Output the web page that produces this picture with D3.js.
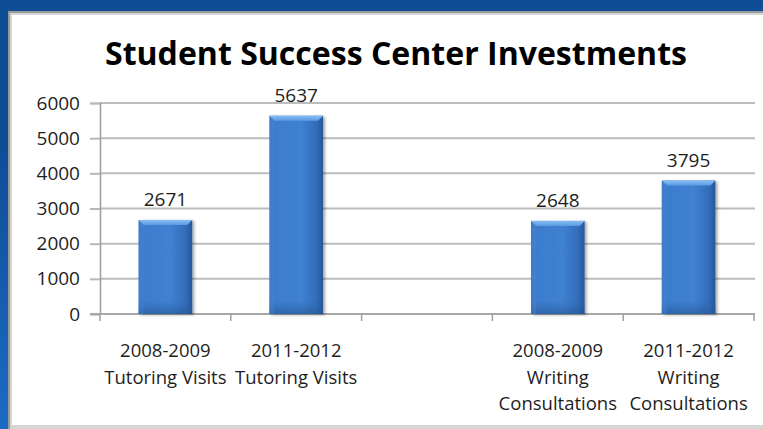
<!DOCTYPE html>
<html>
<head>
<meta charset="utf-8">
<script src="https://cdn.jsdelivr.net/npm/d3@7"></script>
<style>
  html, body { margin: 0; padding: 0; background: #ffffff; overflow: hidden; }
  svg { display: block; }
  text { font-family: "Open Sans", "Noto Sans", sans-serif; fill: #1e1e1e; }
</style>
</head>
<body>
<svg id="svg" width="763" height="429"></svg>
<script>
// ── Data ──────────────────────────────────────────────────────────────────────

const title = 'Student Success Center Investments';
const categories = ['tut0809', 'tut1112', 'gap', 'wri0809', 'wri1112'];
const categoryLabels = [
  ['2008-2009', 'Tutoring Visits'],
  ['2011-2012', 'Tutoring Visits'],
  [],
  ['2008-2009', 'Writing', 'Consultations'],
  ['2011-2012', 'Writing', 'Consultations']
];
const values = [2671, 5637, null, 2648, 3795];
const yTicks = [0, 1000, 2000, 3000, 4000, 5000, 6000];

// ── Layout ────────────────────────────────────────────────────────────────────

const W = 763, H = 429;
const plot = { left: 100, right: 754, top: 103, bottom: 314 };

const svg = d3.select('#svg');
const defs = svg.append('defs');

// slide frame: blue band on top and left, white chart panel
const side = defs.append('linearGradient').attr('id', 'side')
  .attr('x1', 0).attr('y1', 0).attr('x2', 0).attr('y2', 1);
side.append('stop').attr('offset', '0%').attr('stop-color', '#0f4d97');
side.append('stop').attr('offset', '100%').attr('stop-color', '#1b6cc4');

const frame = svg.append('g').attr('class', 'frame');
frame.append('rect').attr('width', W).attr('height', H).attr('fill', '#0f4d97');
frame.append('rect').attr('x', 0).attr('y', 150).attr('width', 9).attr('height', H - 150).attr('fill', 'url(#side)');
frame.append('rect').attr('x', 8).attr('y', 11).attr('width', W - 8).attr('height', H - 11).attr('fill', '#9a9a9a');
frame.append('rect').attr('x', 10).attr('y', 13).attr('width', W - 10).attr('height', H - 13).attr('fill', '#d6d6d6');
frame.append('rect').attr('x', 12).attr('y', 15).attr('width', W - 12).attr('height', H - 19).attr('fill', '#ffffff');

// ── Gradients for bevelled bars ──────────────────────────────────────────────

const body = defs.append('linearGradient').attr('id', 'bar-body')
  .attr('x1', 0).attr('y1', 0).attr('x2', 1).attr('y2', 0);
[['0%', '#3570bd'], ['12%', '#3d7dcd'], ['60%', '#3f81d1'], ['88%', '#326db9'], ['100%', '#26579a']]
  .forEach(([o, c]) => body.append('stop').attr('offset', o).attr('stop-color', c));
const topG = defs.append('linearGradient').attr('id', 'bar-top')
  .attr('x1', 0).attr('y1', 0).attr('x2', 0).attr('y2', 1);
topG.append('stop').attr('offset', '0%').attr('stop-color', '#86bdf4');
topG.append('stop').attr('offset', '100%').attr('stop-color', '#5a9be2');
const botG = defs.append('linearGradient').attr('id', 'bar-bot')
  .attr('x1', 0).attr('y1', 0).attr('x2', 0).attr('y2', 1);
botG.append('stop').attr('offset', '0%').attr('stop-color', '#2d62a8').attr('stop-opacity', 0);
botG.append('stop').attr('offset', '100%').attr('stop-color', '#24538f').attr('stop-opacity', 1);
const shadow = defs.append('filter').attr('id', 'shadow')
  .attr('x', '-20%').attr('y', '-10%').attr('width', '150%').attr('height', '130%');
shadow.append('feDropShadow').attr('dx', 2).attr('dy', 1).attr('stdDeviation', 1.5)
  .attr('flood-color', '#000').attr('flood-opacity', 0.35);

// ── Scales ────────────────────────────────────────────────────────────────────

const x = d3.scaleBand().domain(categories).range([plot.left, plot.right]).padding(0);
const y = d3.scaleLinear().domain([0, 6000]).range([plot.bottom, plot.top]);
const barW = x.bandwidth() * 0.41;

// gridlines
svg.append('g').selectAll('line.grid')
  .data(yTicks.filter(t => t > 0))
  .join('line')
  .attr('x1', plot.left).attr('x2', plot.right + 1)
  .attr('y1', d => y(d)).attr('y2', d => y(d))
  .attr('stroke', '#bdbdbd').attr('stroke-width', 2);

// y axis
const yAxis = svg.append('g').attr('transform', `translate(${plot.left},0)`)
  .call(d3.axisLeft(y).tickValues(yTicks).tickFormat(d3.format('d')).tickSize(10).tickPadding(10));
yAxis.select('.domain').attr('stroke', '#9a9a9a').attr('stroke-width', 1.5);
yAxis.selectAll('.tick line').attr('stroke', '#b8b8b8').attr('stroke-width', 2);
yAxis.selectAll('.tick text').attr('font-size', 19).attr('fill', '#1e1e1e')
  .style('font-family', '"Open Sans", sans-serif');

// x axis baseline and category boundary ticks
const bounds = categories.map(c => x(c)).concat([plot.right]);
svg.append('line').attr('x1', plot.left - 10).attr('x2', plot.right + 1)
  .attr('y1', y(0)).attr('y2', y(0)).attr('stroke', '#a8a8a8').attr('stroke-width', 2);
svg.append('g').selectAll('line')
  .data(bounds)
  .join('line')
  .attr('x1', d => d).attr('x2', d => d)
  .attr('y1', y(0)).attr('y2', y(0) + 7)
  .attr('stroke', '#a0a0a0').attr('stroke-width', 1.5);

// ── Bars ──────────────────────────────────────────────────────────────────────

const rows = categories.map((c, i) => ({ c, v: values[i] }))
  .filter(d => d.v != null);

const bars = svg.append('g').selectAll('g.bar')
  .data(rows)
  .join('g')
  .attr('class', 'bar');

bars.each(function(d) {
  const sel = d3.select(this);
  const x0 = x(d.c) + (x.bandwidth() - barW) / 2;
  const yt = y(d.v), yb = y(0);
  const bev = 5;

  sel.append('rect').attr('x', x0).attr('y', yt).attr('width', barW).attr('height', yb - yt)
    .attr('fill', 'url(#bar-body)').attr('filter', 'url(#shadow)');
  sel.append('rect').attr('x', x0).attr('y', yb - 14).attr('width', barW).attr('height', 14)
    .attr('fill', 'url(#bar-bot)').attr('opacity', 0.6);
  sel.append('path')
    .attr('d', `M${x0},${yt} L${x0 + barW},${yt} L${x0 + barW - bev},${yt + bev} L${x0 + bev},${yt + bev} Z`)
    .attr('fill', 'url(#bar-top)');
  sel.append('path')
    .attr('d', `M${x0},${yt} L${x0 + bev},${yt + bev} L${x0 + bev},${yb} L${x0},${yb} Z`)
    .attr('fill', '#4f8fdc').attr('opacity', 0.35);

  sel.append('text')
    .attr('x', x0 + barW / 2).attr('y', yt - 14)
    .attr('text-anchor', 'middle').attr('font-size', 19)
    .text(d3.format('d')(d.v));
});

// category labels
svg.append('g').selectAll('text.cat')
  .data(categories.map((c, i) => ({ c, lines: categoryLabels[i] })))
  .join('text')
  .attr('class', 'cat')
  .attr('text-anchor', 'middle')
  .attr('font-size', 18.5)
  .each(function(d) {
    d3.select(this).selectAll('tspan')
      .data(d.lines)
      .join('tspan')
      .attr('x', x(d.c) + x.bandwidth() / 2)
      .attr('y', (l, i) => 357 + i * 26.5)
      .text(l => l);
  });

// title
svg.append('text')
  .attr('x', 105).attr('y', 65)
  .attr('font-size', 32).attr('font-weight', 700)
  .attr('textLength', 582).attr('lengthAdjust', 'spacingAndGlyphs')
  .style('fill', '#000')
  .text(title);
</script>
</body>
</html>
